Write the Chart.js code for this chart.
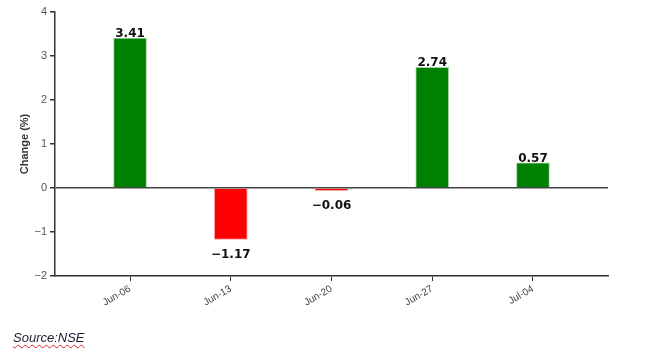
<!DOCTYPE html>
<html>
<head>
<meta charset="utf-8">
<script src="https://cdn.jsdelivr.net/npm/chart.js@4"></script>
<style>
  html, body { margin: 0; padding: 0; background: #fff; }
  #wrap { position: relative; width: 649px; height: 352px; }
  #source {
    position: absolute; left: 13px; top: 330px;
    font: italic 13px "Liberation Sans", Arial, sans-serif;
    color: #1a1a2e;
    text-decoration: underline wavy #e02020;
    text-decoration-thickness: 1px;
    text-underline-offset: 2px;
    text-decoration-skip-ink: none;
  }
</style>
</head>
<body>
<div id="wrap">
  <canvas id="chart" width="649" height="352"></canvas>
  <div id="source">Source:NSE</div>
</div>
<script>
// Данные
const categories = ['Jun-06', 'Jun-13', 'Jun-20', 'Jun-27', 'Jul-04'];
const changes = [3.41, -1.17, -0.06, 2.74, 0.57];
const yTicks = [4, 3, 2, 1, 0, -1, -2];

const fmt = v => (v < 0 ? '\u2212' : '') + Math.abs(v).toString();

// Подписи значений над/под столбцами
const valueLabels = {
    id: 'valueLabels',
    afterDatasetsDraw(chart) {
        const ctx = chart.ctx;
        const meta = chart.getDatasetMeta(0);
        ctx.save();
        ctx.font = 'bold 12px "DejaVu Sans", sans-serif';
        ctx.fillStyle = '#111';
        ctx.textAlign = 'center';
        meta.data.forEach((bar, i) => {
            const v = changes[i];
            if (v >= 0) {
                ctx.textBaseline = 'alphabetic';
                ctx.fillText(fmt(v), bar.x, bar.y - 1);
            } else {
                ctx.textBaseline = 'top';
                ctx.fillText(fmt(v), bar.x, bar.y + 9);
            }
        });
        ctx.restore();
    }
};

new Chart(document.getElementById('chart'), {
    type: 'bar',
    data: {
        datasets: [{
            data: changes.map((v, i) => ({ x: i, y: v })),
            backgroundColor: changes.map(v => v >= 0 ? '#008000' : '#ff0000'),
            borderColor: changes.map(v => v >= 0 ? 'rgba(0,128,0,0.35)' : 'rgba(255,0,0,0.35)'),
            borderWidth: 1,
            barThickness: 33
        }]
    },
    options: {
        responsive: false,
        animation: false,
        layout: { padding: { top: 12, right: 41, left: 18, bottom: 0 } },
        plugins: { legend: { display: false }, tooltip: { enabled: false } },
        scales: {
            x: {
                type: 'linear',
                offset: false,
                min: -0.745,
                max: 4.745,
                afterBuildTicks: s => { s.ticks = categories.map((_, i) => ({ value: i })); },
                afterFit: s => { s.height = 76; },
                grid: { offset: false, color: 'transparent', tickColor: '#333', tickLength: 5, drawOnChartArea: false },
                border: { display: true, color: '#333', width: 1.5 },
                ticks: {
                    minRotation: 30, maxRotation: 30,
                    color: '#444',
                    font: { family: '"Liberation Sans", Arial, sans-serif', size: 10 },
                    padding: 2,
                    callback: v => categories[v]
                }
            },
            y: {
                min: -2,
                max: 4,
                afterBuildTicks: s => { s.ticks = yTicks.map(v => ({ value: v })); },
                afterFit: s => { s.width = 37; },
                grid: {
                    color: c => c.tick && c.tick.value === 0 ? '#444' : 'transparent',
                    lineWidth: 1.5,
                    tickColor: '#333',
                    tickLength: 5
                },
                border: { display: true, color: '#333', width: 1.5 },
                ticks: {
                    color: '#555',
                    font: { family: '"Liberation Sans", Arial, sans-serif', size: 11 },
                    padding: 3,
                    callback: v => fmt(v)
                },
                title: {
                    display: true,
                    text: 'Change (%)',
                    color: '#333',
                    font: { family: '"Liberation Sans", Arial, sans-serif', size: 11, weight: 'bold' },
                    padding: { top: 0, bottom: 0 }
                }
            }
        }
    },
    plugins: [valueLabels]
});
</script>
</body>
</html>
